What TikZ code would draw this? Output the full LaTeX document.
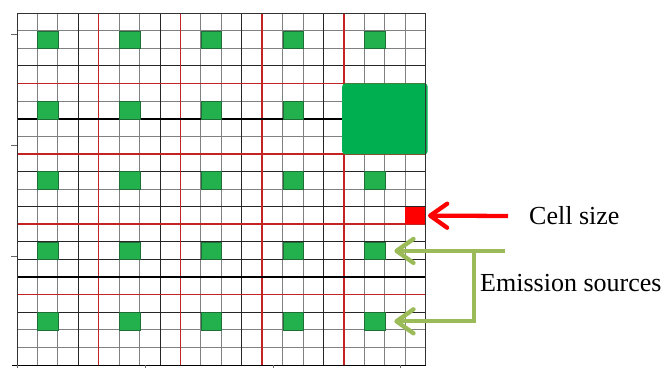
\documentclass[tikz,border=0pt]{standalone}
\usepackage{fontspec}
\setmainfont{Liberation Serif}
\usetikzlibrary{positioning,arrows.meta,calc}
\definecolor{srcgreen}{RGB}{34,177,76}
\definecolor{srcedge}{RGB}{30,110,55}
\definecolor{boxgreen}{RGB}{0,176,80}
\definecolor{gridred}{RGB}{195,35,35}
\definecolor{arrowgreen}{RGB}{155,187,89}

\begin{document}
\begin{tikzpicture}[x=1pt,y=-1pt,
    gray line/.style={black!50, line width=1pt},
    dark line/.style={black!85, line width=1pt},
    red line/.style={gridred, line width=1.5pt},
    bold line/.style={black, line width=1.8pt},
    source/.style={draw=srcedge, fill=srcgreen, line width=0.6pt, inner sep=0pt,
      minimum width=20.43pt, minimum height=17.6pt, anchor=north west},
    label/.style={font=\fontsize{26}{30}\selectfont, inner sep=0pt, anchor=west},
    pointer/.style={line width=4.3pt, -{Straight Barb[length=17pt,width=24pt,round]}}]
  \useasboundingbox (0,0) rectangle (667,368);
  \begin{scope}[shift={(17,13)}, x=20.43pt, y=-17.6pt]
    \foreach \i in {1,...,19} {
      \draw[gray line] (\i,0) -- (\i,20);
      \draw[gray line] (0,\i) -- (20,\i);
    }
    \foreach \i in {3,7,11,15} \draw[dark line] (\i,0) -- (\i,20);
    \foreach \i in {3,9,11,13,14,17} \draw[dark line] (0,\i) -- (20,\i);
    \foreach \i in {4,8,12,16} {
      \draw[red line] (\i,0) -- (\i,20);
      \draw[red line] (0,\i) -- (20,\i);
    }
    \draw[bold line] (0,6) -- (16,6);
    \draw[bold line] (0,15) -- (20,15);
    % emission sources
    \foreach \c in {1,5,9,13,17}
      \foreach \r in {1,5,9,13,17} {
        \pgfmathtruncatemacro\hidden{(\c==17)&&(\r==5)}
        \ifnum\hidden=0 \node[source] (src-\c-\r) at (\c,\r) {}; \fi
      }
    \fill[boxgreen, rounded corners=3pt] (15.92,4) rectangle (20.1,8.03);
    \node[fill=red, inner sep=0pt, minimum width=20.43pt, minimum height=17.6pt,
      anchor=north west] (cell) at (19,11) {};
    \draw[black!80, line width=1pt] (0,0) rectangle (20,20);
    \draw[black, line width=1pt] (-0.25,20) -- (20,20);
  \end{scope}
  \foreach \y in {34.7,145.3,256} \draw[black!60, line width=1pt] (11,\y) -- (17,\y);
  \foreach \x in {17,145,273,400} \draw[black!60, line width=1pt] (\x,365) -- (\x,368);

  \node[label] (cellsize) at (529,216) {Cell size};
  \node[label] (emission) at (480,283) {Emission sources};
  \draw[pointer, red] ([xshift=-21pt]cellsize.west) -- ([xshift=2pt]cell.east);
  \coordinate (feed) at ($(src-17-13.east)+(120,0)$);
  \coordinate (fork) at ($(src-17-13.east)+(88.5,0)$);
  \draw[pointer, arrowgreen] (feed) -- ([xshift=9pt]src-17-13.east);
  \draw[pointer, arrowgreen] (fork) |- ([xshift=9pt]src-17-17.east);
\end{tikzpicture}
\end{document}
